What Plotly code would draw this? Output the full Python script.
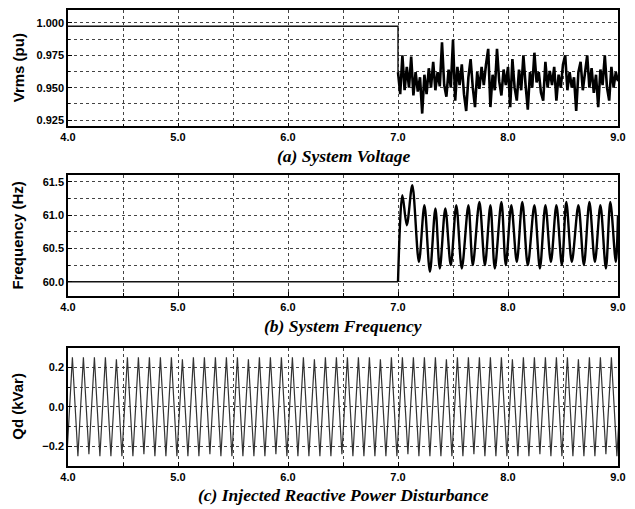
import numpy as np
import plotly.graph_objects as go
from plotly.subplots import make_subplots

# ---------------- data ----------------
# (a) System voltage
V_PRE_T = [4.0, 7.0]
V_PRE = [0.9975, 0.9975]
V_T0, V_DT = 7.0, 0.02
V_POST = [0.962, 0.945, 0.975, 0.948, 0.966, 0.950, 0.974, 0.944, 0.962, 0.947,
          0.958, 0.930, 0.960, 0.945, 0.965, 0.950, 0.970, 0.948, 0.962, 0.951,
          0.985, 0.952, 0.943, 0.964, 0.950, 0.987, 0.940, 0.966, 0.952, 0.968,
          0.945, 0.932, 0.958, 0.972, 0.950, 0.935, 0.962, 0.949, 0.966, 0.952,
          0.968, 0.980, 0.935, 0.960, 0.948, 0.980, 0.955, 0.944, 0.964, 0.952,
          0.966, 0.935, 0.972, 0.950, 0.940, 0.964, 0.948, 0.975, 0.952, 0.933,
          0.962, 0.950, 0.977, 0.954, 0.962, 0.946, 0.940, 0.970, 0.950, 0.963,
          0.952, 0.966, 0.940, 0.960, 0.950, 0.968, 0.975, 0.948, 0.962, 0.950,
          0.958, 0.932, 0.962, 0.970, 0.948, 0.962, 0.975, 0.950, 0.965, 0.946,
          0.960, 0.935, 0.964, 0.952, 0.975, 0.950, 0.940, 0.966, 0.950, 0.962,
          0.955]

# (b) System frequency
F_PRE_T = [4.0, 7.0]
F_PRE = [60.0, 60.0]
F_T = [7.0, 7.04, 7.08, 7.13, 7.19, 7.24, 7.29, 7.34, 7.38, 7.43, 7.48, 7.53, 7.58,
       7.64, 7.68, 7.74, 7.79, 7.84, 7.88, 7.94, 7.98, 8.03, 8.08, 8.13, 8.18,
       8.24, 8.29, 8.34, 8.39, 8.44, 8.49, 8.53, 8.58, 8.64, 8.69, 8.74, 8.79,
       8.84, 8.89, 8.93, 8.98, 9.0]
F_V = [60.0, 61.3, 60.85, 61.45, 60.3, 61.15, 60.15, 61.1, 60.2, 61.1, 60.25, 61.15,
       60.2, 61.15, 60.25, 61.2, 60.25, 61.15, 60.2, 61.2, 60.25, 61.15, 60.3,
       61.2, 60.25, 61.15, 60.2, 61.15, 60.3, 61.15, 60.25, 61.2, 60.3, 61.15,
       60.25, 61.2, 60.3, 61.15, 60.2, 61.2, 60.3, 61.0]

# (c) Injected reactive power disturbance (turning points every half period)
Q_T0, Q_DT = 3.99, 0.05
Q_V = [-0.25, 0.25, -0.25, 0.25, -0.24, 0.25, -0.25, 0.25, -0.25, 0.24,
       -0.25, 0.25, -0.25, 0.25, -0.24, 0.25, -0.25, 0.25, -0.25, 0.25,
       -0.25, 0.24, -0.25, 0.25, -0.25, 0.25, -0.24, 0.25, -0.25, 0.25,
       -0.25, 0.25, -0.25, 0.24, -0.25, 0.25, -0.25, 0.25, -0.24, 0.25,
       -0.25, 0.25, -0.25, 0.25, -0.25, 0.24, -0.25, 0.25, -0.25, 0.25,
       -0.24, 0.25, -0.25, 0.25, -0.25, 0.25, -0.25, 0.24, -0.25, 0.25,
       -0.25, 0.25, -0.24, 0.25, -0.25, 0.25, -0.25, 0.25, -0.25, 0.24,
       -0.25, 0.25, -0.25, 0.25, -0.24, 0.25, -0.25, 0.25, -0.25, 0.25,
       -0.25, 0.24, -0.25, 0.25, -0.25, 0.25, -0.24, 0.25, -0.25, 0.25,
       -0.25, 0.25, -0.25, 0.24, -0.25, 0.25, -0.25, 0.25, -0.24, 0.25,
       -0.25, 0.25]

X_TICKS = [4.0, 5.0, 6.0, 7.0, 8.0, 9.0]
CAPTIONS = ["(a) System Voltage", "(b) System Frequency",
            "(c) Injected Reactive Power Disturbance"]
Y_TITLES = ["Vrms (pu)", "Frequency (Hz)", "Qd (kVar)"]

# ---------------- figure ----------------
W, H = 635, 509
ML, MR, MT, MB = 68, 17, 8, 43
PH = H - MT - MB

def dom(top_px, bot_px):
    return [1 - (bot_px - MT) / PH, 1 - (top_px - MT) / PH]

domains = [dom(8, 125), dom(174, 295), dom(347, 466)]

fig = make_subplots(rows=3, cols=1)

v_t = V_T0 + V_DT * np.arange(len(V_POST))
q_t = Q_T0 + Q_DT * np.arange(len(Q_V))

fig.add_trace(go.Scatter(x=V_PRE_T + [V_T0], y=V_PRE + [V_POST[0]], mode="lines",
                         line=dict(color="#111", width=1.4)), row=1, col=1)
fig.add_trace(go.Scatter(x=v_t, y=V_POST, mode="lines",
                         line=dict(color="#000", width=2.6)), row=1, col=1)
fig.add_trace(go.Scatter(x=F_PRE_T, y=F_PRE, mode="lines",
                         line=dict(color="#111", width=1.4)), row=2, col=1)
fig.add_trace(go.Scatter(x=F_T, y=F_V, mode="lines",
                         line=dict(color="#000", width=2.4, shape="spline", smoothing=0.9)),
              row=2, col=1)
fig.add_trace(go.Scatter(x=q_t, y=Q_V, mode="lines",
                         line=dict(color="#333", width=1.2)), row=3, col=1)

tickfont = dict(family="Liberation Sans", size=11, color="black", weight="bold")
GRIDC = "#444"
grid = dict(showgrid=True, gridcolor=GRIDC, gridwidth=1, griddash="dot")

y_cfg = [
    dict(range=[0.920, 1.010], tick0=0.925, dtick=0.025, tickformat=".3f", minor_dtick=0.0125),
    dict(range=[59.79, 61.6], tick0=60.0, dtick=0.5, tickformat=".1f", minor_dtick=0.25),
    dict(range=[-0.3, 0.3], tick0=-0.2, dtick=0.2, tickformat=".1f", minor_dtick=0.1),
]

for i in range(3):
    r = i + 1
    fig.update_xaxes(row=r, col=1, range=[4.0, 9.0], tickvals=X_TICKS, tickformat=".1f",
                     ticks="inside", ticklen=4, tickcolor="black",
                     showline=True, linecolor="black", linewidth=1.5, mirror=True,
                     tickfont=tickfont, zeroline=False,
                     minor=dict(dtick=0.5, tick0=4.0, ticks="inside", ticklen=3,
                                showgrid=True, gridcolor=GRIDC, griddash="dot"),
                     **grid)
    c = y_cfg[i]
    fig.update_yaxes(row=r, col=1, range=c["range"], tick0=c["tick0"], dtick=c["dtick"],
                     tickformat=c["tickformat"], domain=domains[i],
                     ticks="inside", ticklen=4, tickcolor="black",
                     showline=True, linecolor="black", linewidth=1.5, mirror=True,
                     tickfont=tickfont, zeroline=False,
                     minor=dict(dtick=c["minor_dtick"], tick0=c["tick0"], ticks="inside",
                                ticklen=2, showgrid=True, gridcolor=GRIDC, griddash="dot"),
                     **grid)

cap_y_px = [155, 325, 495]
for i in range(3):
    fig.add_annotation(xref="paper", yref="paper", x=0.5,
                       y=1 - (cap_y_px[i] - MT) / PH, xanchor="center", yanchor="middle",
                       text="<b><i>" + CAPTIONS[i] + "</i></b>", showarrow=False,
                       font=dict(family="Liberation Serif", size=17.5, color="black"))
    yc = (domains[i][0] + domains[i][1]) / 2
    fig.add_annotation(xref="paper", yref="paper", x=(18 - ML) / (W - ML - MR), y=yc,
                       xanchor="center", yanchor="middle", textangle=-90,
                       text="<b>" + Y_TITLES[i] + "</b>", showarrow=False,
                       font=dict(family="Liberation Sans", size=15, color="black"))

fig.update_layout(width=W, height=H, margin=dict(l=ML, r=MR, t=MT, b=MB),
                  paper_bgcolor="white", plot_bgcolor="white", showlegend=False)

fig.write_html("out.html", config={"displayModeBar": False},
               post_script="document.body.style.margin='0';document.body.style.overflow='hidden';")
